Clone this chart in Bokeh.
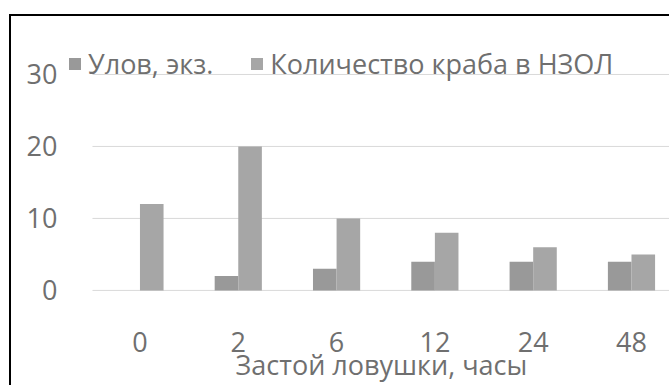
from bokeh.plotting import figure
from bokeh.models import ColumnDataSource, FixedTicker, Legend, LegendItem, Title
from bokeh.transform import dodge
from bokeh.embed import file_html
from bokeh.resources import INLINE

categories = ["0", "2", "6", "12", "24", "48"]
catch = [0, 2, 3, 4, 4, 4]
crabs = [12, 20, 10, 8, 6, 5]
series_names = ["Улов, экз.", "Количество краба в НЗОЛ"]
x_title = "Застой ловушки, часы"
y_ticks = [0, 10, 20, 30]

FONT = "Open Sans"
TXT = "#6f6f6f"
FS = "27px"

X_START, X_END = -0.788, 5.407
GRID_X0 = -0.483

src = ColumnDataSource(dict(x=list(range(len(categories))), catch=catch, crabs=crabs))

p = figure(width=660, height=371, output_backend="svg", toolbar_location=None,
           x_range=(X_START, X_END), y_range=(-0.15, 34.44),
           min_border_left=51, min_border_top=26, min_border_bottom=96, min_border_right=0,
           margin=(14, 0, 0, 9))
p.styles = {"border-top": "2px solid black", "border-left": "2px solid black"}
p.outline_line_color = None
p.background_fill_color = "white"
p.border_fill_color = "white"
p.grid.grid_line_color = None

grid_src = ColumnDataSource(dict(y=y_ticks, x0=[GRID_X0] * len(y_ticks), x1=[X_END] * len(y_ticks)))
g = p.segment(x0="x0", x1="x1", y0="y", y1="y", source=grid_src, line_color="#d9d9d9", line_width=1)
g.level = "underlay"

r1 = p.vbar(x=dodge("x", -0.12, range=p.x_range), top="catch", width=0.24, source=src,
            fill_color="#999999", line_color=None)
r2 = p.vbar(x=dodge("x", 0.12, range=p.x_range), top="crabs", width=0.24, source=src,
            fill_color="#a6a6a6", line_color=None)

p.yaxis.ticker = FixedTicker(ticks=y_ticks)
p.xaxis.ticker = FixedTicker(ticks=list(range(len(categories))))
p.xaxis.major_label_overrides = {i: c for i, c in enumerate(categories)}

for ax in (p.xaxis[0], p.yaxis[0]):
    ax.axis_line_color = None
    ax.major_tick_line_color = None
    ax.minor_tick_line_color = None
    ax.major_label_text_font = FONT
    ax.major_label_text_font_size = FS
    ax.major_label_text_color = TXT

p.yaxis.major_label_standoff = -1
p.xaxis.major_label_standoff = 34

title = Title(text=x_title, align="left", offset=173, standoff=-22,
              text_font=FONT, text_font_size=FS, text_font_style="normal", text_color=TXT)
p.add_layout(title, "below")

legend = Legend(items=[LegendItem(label=series_names[0], renderers=[r1]),
                       LegendItem(label=series_names[1], renderers=[r2])],
                orientation="horizontal", location=(5, 209),
                glyph_width=15, glyph_height=15, label_standoff=6, spacing=36,
                padding=0, margin=0, border_line_color=None, background_fill_alpha=0,
                label_text_font=FONT, label_text_font_size=FS, label_text_color=TXT)
p.add_layout(legend, "center")

open("out.html", "w").write(file_html(p, INLINE))
